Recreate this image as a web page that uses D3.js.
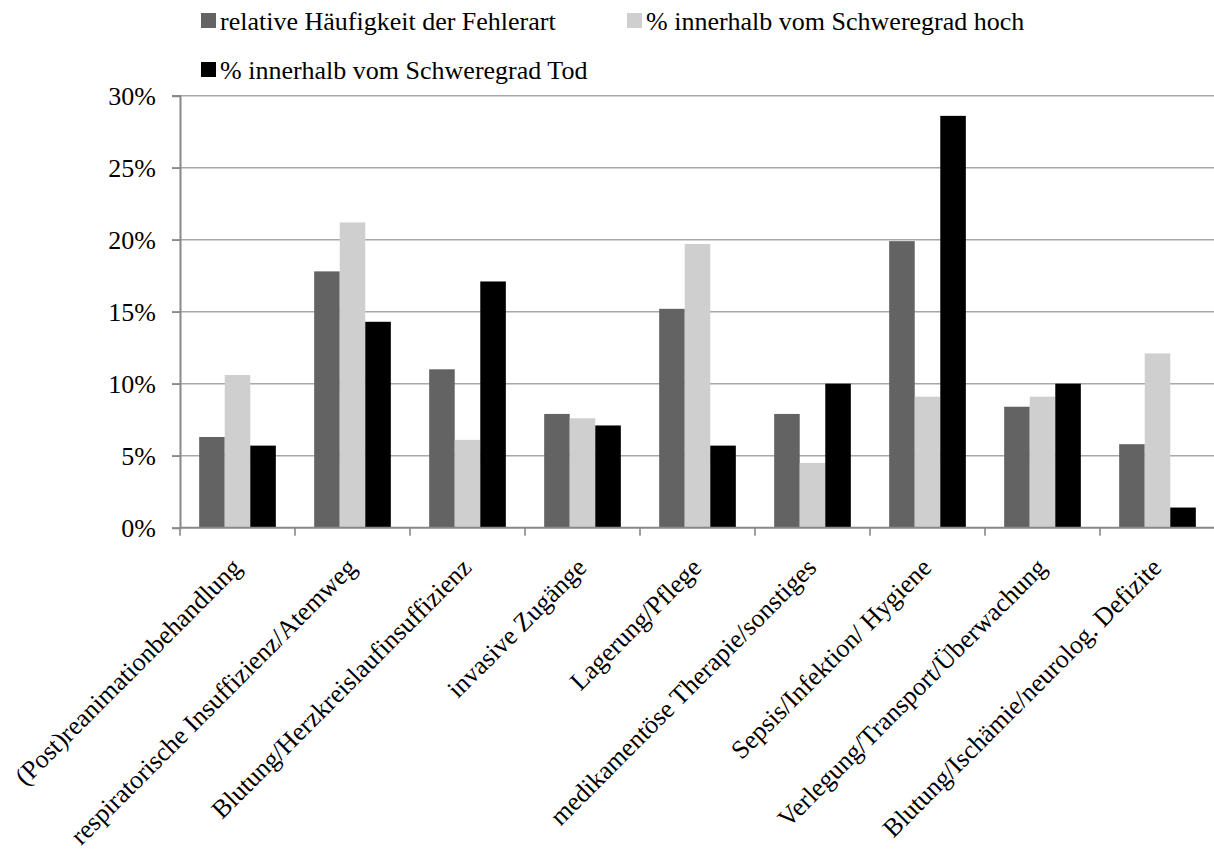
<!DOCTYPE html>
<html>
<head>
<meta charset="utf-8">
<script src="https://cdn.jsdelivr.net/npm/d3@7"></script>
<style>
  html, body { margin: 0; padding: 0; background: #fff; }
  svg { display: block; font-family: "Liberation Serif", "Times New Roman", serif; }
</style>
</head>
<body>
<svg id="chart" width="1214" height="852"></svg>
<script>
// Fehlerarten (Kategorien der x-Achse)
const categories = [
  "(Post)reanimationbehandlung",
  "respiratorische Insuffizienz/Atemweg",
  "Blutung/Herzkreislaufinsuffizienz",
  "invasive Zugänge",
  "Lagerung/Pflege",
  "medikamentöse Therapie/sonstiges",
  "Sepsis/Infektion/ Hygiene",
  "Verlegung/Transport/Überwachung",
  "Blutung/Ischämie/neurolog. Defizite"
];

const seriesNames = [
  "relative Häufigkeit der Fehlerart",
  "% innerhalb vom Schweregrad hoch",
  "% innerhalb vom Schweregrad Tod"
];

// Anteile in Prozent
const relHaeufigkeit = [6.3, 17.8, 11.0, 7.9, 15.2, 7.9, 19.9, 8.4, 5.8];
const schweregradHoch = [10.6, 21.2, 6.1, 7.6, 19.7, 4.5, 9.1, 9.1, 12.1];
const schweregradTod = [5.7, 14.3, 17.1, 7.1, 5.7, 10.0, 28.6, 10.0, 1.4];

const yTicks = [0, 5, 10, 15, 20, 25, 30];

const seriesColors = ["#636363", "#d0cfd0", "#000000"];
const seriesValues = [relHaeufigkeit, schweregradHoch, schweregradTod];

const svg = d3.select("#chart");
const FONT = 26;

const x0 = 180, x1 = 1215, yTop = 95.7, yBottom = 527.7;

const x = d3.scaleBand().domain(categories).range([x0, x1]).paddingInner(0).paddingOuter(0);
const bw = x.bandwidth();
const xs = d3.scaleBand().domain(d3.range(seriesNames.length))
  .range([bw / 4.5 * 0.75, bw - bw / 4.5 * 0.75]).paddingInner(0).paddingOuter(0);
const y = d3.scaleLinear().domain([0, 30]).range([yBottom, yTop]);

// Gitterlinien
svg.append("g")
  .selectAll("line")
  .data(yTicks.filter(t => t > 0))
  .join("line")
  .attr("x1", x0 - 8).attr("x2", x1)
  .attr("y1", d => y(d)).attr("y2", d => y(d))
  .attr("stroke", "#a8a8a8").attr("stroke-width", 1.6);

// Balken
const groups = svg.append("g")
  .selectAll("g")
  .data(categories)
  .join("g")
  .attr("transform", d => `translate(${x(d)},0)`);

groups.selectAll("rect")
  .data((d, i) => seriesValues.map((vals, s) => ({ s, v: vals[i] })))
  .join("rect")
  .attr("x", d => xs(d.s))
  .attr("width", xs.bandwidth())
  .attr("y", d => y(d.v))
  .attr("height", d => y(0) - y(d.v))
  .attr("fill", d => seriesColors[d.s]);

// y-Achse
const yAxis = d3.axisLeft(y).tickValues(yTicks).tickSize(8).tickPadding(16)
  .tickFormat(d => d + "%");
const gy = svg.append("g").attr("transform", `translate(${x0},0)`).call(yAxis);
gy.select(".domain").attr("stroke", "#888").attr("stroke-width", 2);
gy.selectAll(".tick line").attr("stroke", "#888").attr("stroke-width", 1.6);
gy.selectAll(".tick text")
  .attr("font-size", FONT).attr("font-family", "Liberation Serif").attr("fill", "#000");

// x-Achse mit Teilstrichen an den Kategoriegrenzen
svg.append("line")
  .attr("x1", x0).attr("x2", x1).attr("y1", yBottom).attr("y2", yBottom)
  .attr("stroke", "#888").attr("stroke-width", 2);
svg.append("g")
  .selectAll("line")
  .data(categories)
  .join("line")
  .attr("x1", d => x(d)).attr("x2", d => x(d))
  .attr("y1", yBottom).attr("y2", yBottom + 8)
  .attr("stroke", "#888").attr("stroke-width", 1.6);

// Kategoriebeschriftungen, um 45° gedreht
svg.append("g")
  .selectAll("text")
  .data(categories)
  .join("text")
  .attr("transform", d => `translate(${x(d) + bw / 2 - 1},${yBottom + 35}) rotate(-45)`)
  .attr("text-anchor", "end")
  .attr("dy", "0.35em")
  .attr("font-size", FONT)
  .attr("fill", "#000")
  .text(d => d);

// Legende
const legendItems = [
  { s: 0, x: 201, y: 21 },
  { s: 1, x: 627, y: 21 },
  { s: 2, x: 201, y: 70 }
];
const lg = svg.append("g")
  .selectAll("g")
  .data(legendItems)
  .join("g")
  .attr("transform", d => `translate(${d.x},${d.y})`);
lg.append("rect")
  .attr("x", 0).attr("y", -8).attr("width", 15).attr("height", 15)
  .attr("fill", d => seriesColors[d.s]);
lg.append("text")
  .attr("x", 19).attr("y", 0).attr("dy", "0.35em")
  .attr("font-size", FONT).attr("fill", "#000")
  .text(d => seriesNames[d.s]);
</script>
</body>
</html>
